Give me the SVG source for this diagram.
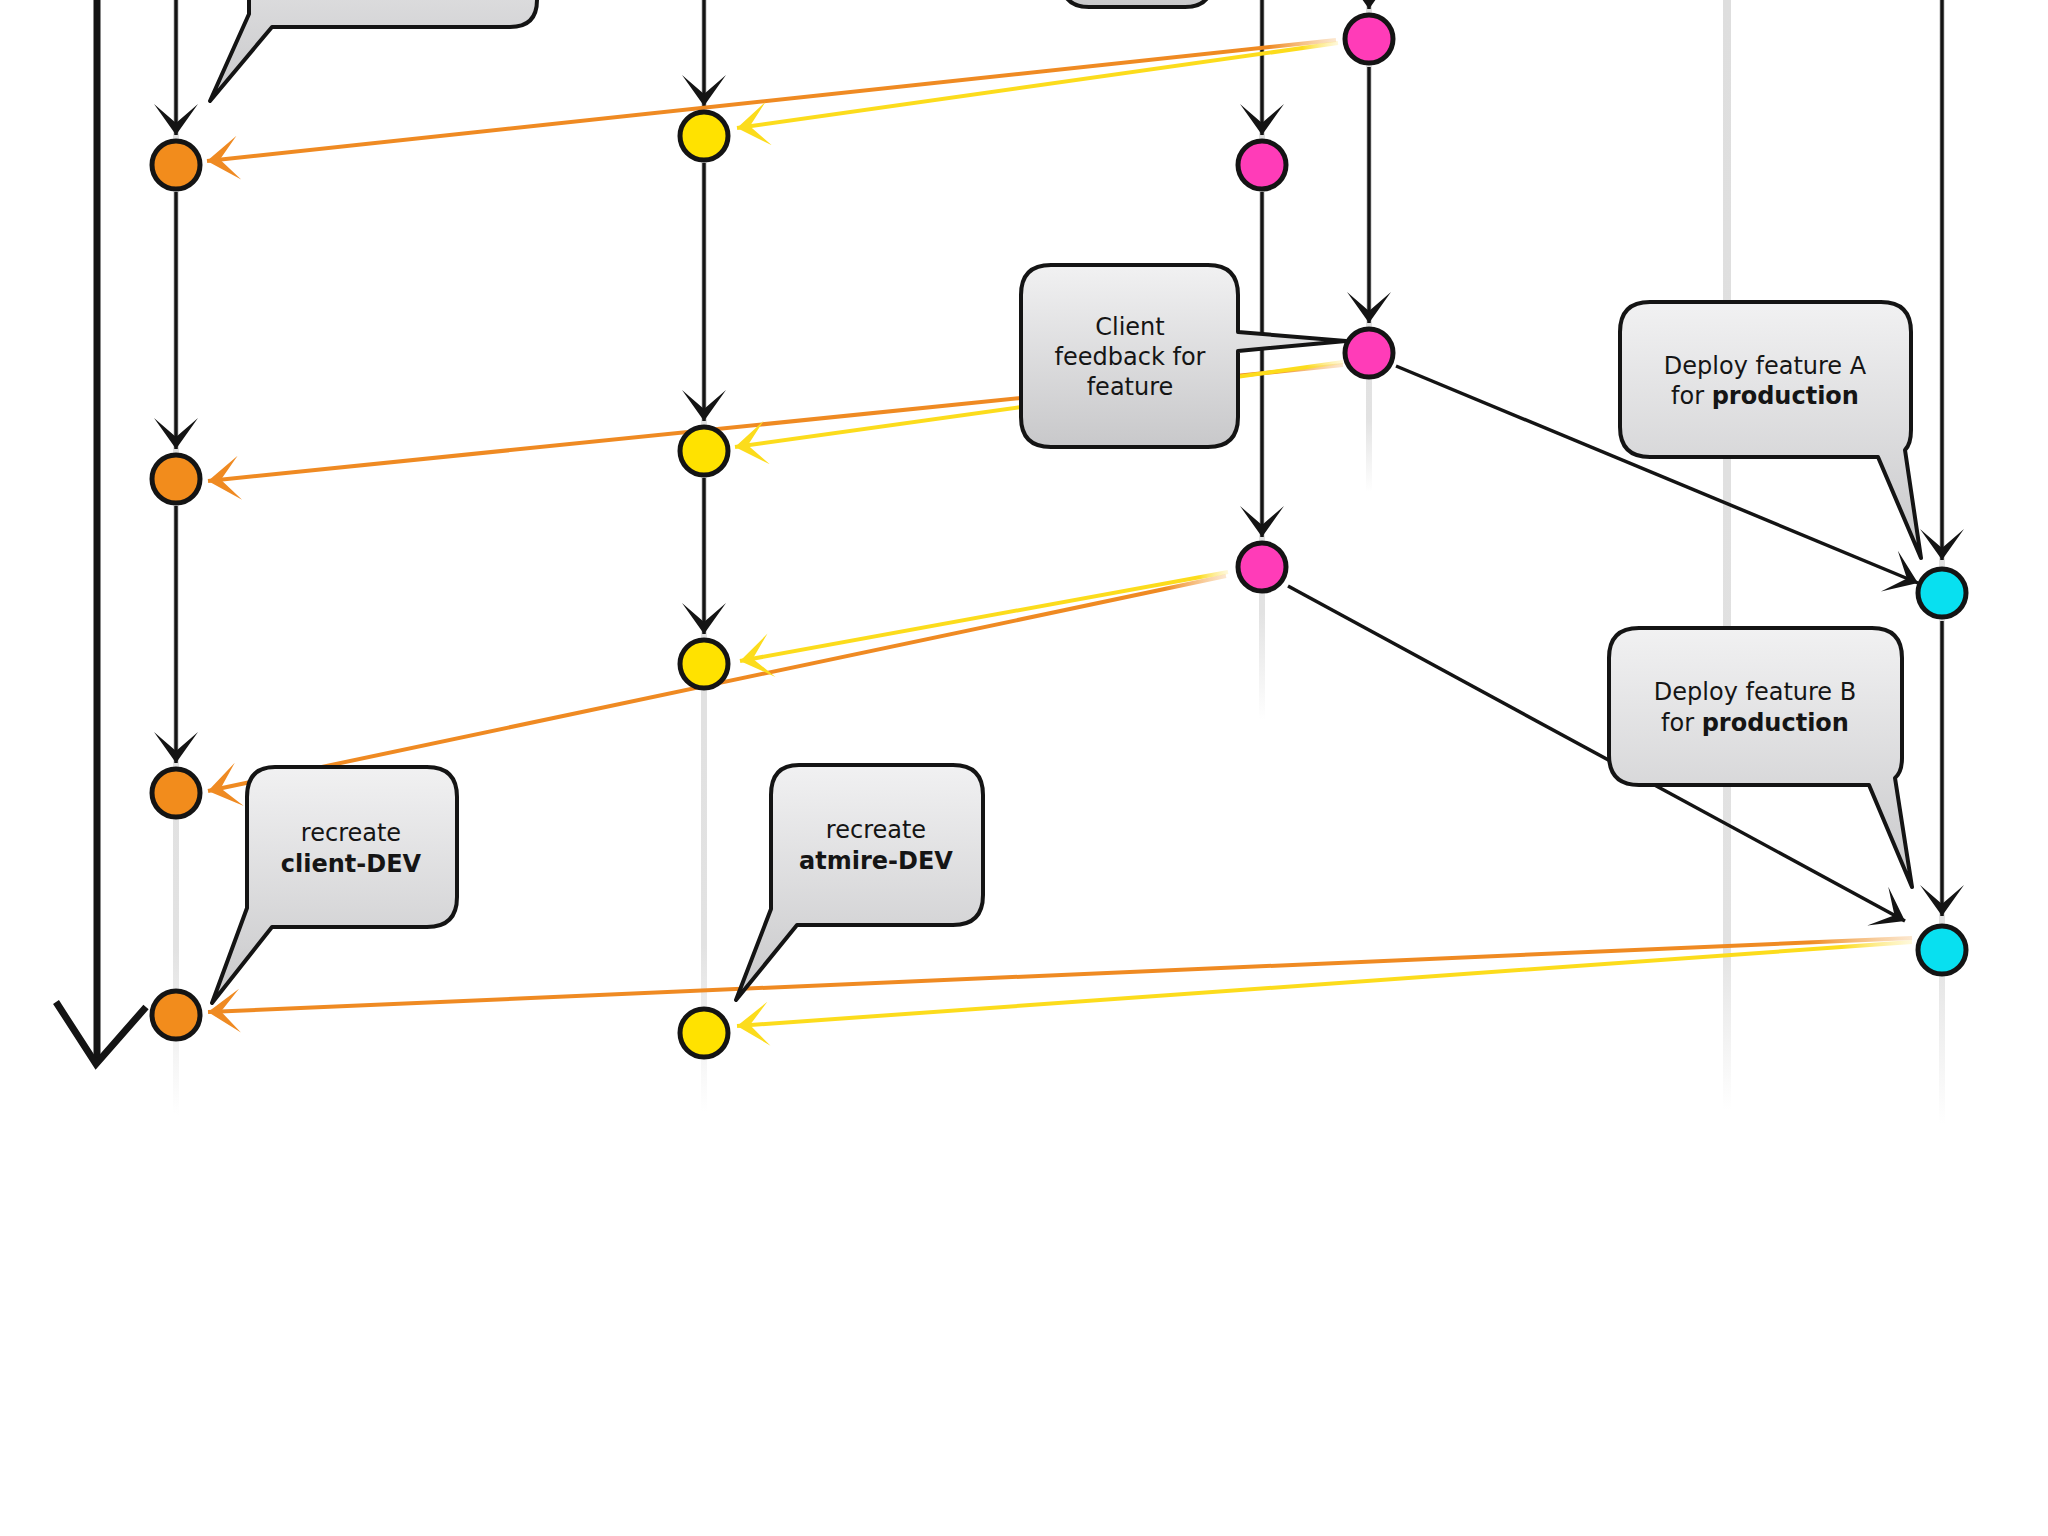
<svg xmlns="http://www.w3.org/2000/svg" width="2048" height="1536" viewBox="0 0 2048 1536">
<defs>
<style>
.lane{fill:url(#laneG)}
.blk{stroke:#141414;stroke-width:3.5;fill:none;marker-end:url(#mB)}
.org{stroke:url(#gO);stroke-width:4;fill:none;marker-end:url(#mO)}
.yel{stroke:url(#gY);stroke-width:4;fill:none;marker-end:url(#mY)}
.bub{fill:url(#bubG);stroke:#141414;stroke-width:4;stroke-linejoin:round}
.node{stroke:#141414;stroke-width:5}
.o{fill:#f28c1c}.y{fill:#ffe200}.p{fill:#ff3cb8}.c{fill:#08e0f0}
text{font-family:"DejaVu Sans","Liberation Sans",sans-serif;font-size:24px;fill:#151515;text-anchor:middle}
.b{font-weight:bold}
</style>
<linearGradient id="laneG" x1="0" y1="0" x2="0" y2="1"><stop offset="0" stop-color="#dedede"/><stop offset="0.85" stop-color="#e2e2e2"/><stop offset="1" stop-color="#e2e2e2" stop-opacity="0"/></linearGradient>
<linearGradient id="bubG" x1="0" y1="0" x2="0" y2="1"><stop offset="0" stop-color="#f1f1f2"/><stop offset="1" stop-color="#c8c8ca"/></linearGradient>
<linearGradient id="gO" x1="0" y1="0" x2="1" y2="0"><stop offset="0" stop-color="#ef8a22"/><stop offset="0.94" stop-color="#ef8a22"/><stop offset="1" stop-color="#f4b060" stop-opacity="0.3"/></linearGradient>
<linearGradient id="gY" x1="0" y1="0" x2="1" y2="0"><stop offset="0" stop-color="#fcdc1c"/><stop offset="0.94" stop-color="#fcdc1c"/><stop offset="1" stop-color="#fde98a" stop-opacity="0.3"/></linearGradient>
<marker id="mB" markerUnits="userSpaceOnUse" markerWidth="60" markerHeight="60" refX="0" refY="0" orient="auto" overflow="visible"><path d="M0,0 L-31,-22 L-12,0 L-31,22 Z" fill="#141414"/></marker>
<marker id="mO" markerUnits="userSpaceOnUse" markerWidth="60" markerHeight="60" refX="0" refY="0" orient="auto" overflow="visible"><path d="M0,0 L-32,-22 L-13,0 L-32,22 Z" fill="#ef8a22"/></marker>
<marker id="mY" markerUnits="userSpaceOnUse" markerWidth="60" markerHeight="60" refX="0" refY="0" orient="auto" overflow="visible"><path d="M0,0 L-32,-22 L-13,0 L-32,22 Z" fill="#fcdc1c"/></marker>
</defs>
<rect width="2048" height="1536" fill="#ffffff"/>

<g id="lanes">
<rect class="lane" x="173" y="0" width="6" height="1115"/>
<rect class="lane" x="701" y="0" width="6" height="1112"/>
<rect class="lane" x="1259" y="0" width="6" height="720"/>
<rect class="lane" x="1366" y="0" width="6" height="492"/>
<rect class="lane" x="1723" y="0" width="8" height="1110"/>
<rect class="lane" x="1939" y="0" width="6" height="1124"/>
</g>

<g id="connectors">
<path d="M97 -5 L97 1058" stroke="#141414" stroke-width="7" fill="none"/>
<path d="M56 1002 L96 1064 L146 1007" stroke="#141414" stroke-width="7" fill="none" stroke-linejoin="miter"/>
<path class="blk" d="M176 -5 V135"/>
<path class="blk" d="M176 192 V449"/>
<path class="blk" d="M176 506 V763"/>
<path class="blk" d="M704 -5 V106"/>
<path class="blk" d="M704 163 V421"/>
<path class="blk" d="M704 478 V634"/>
<path class="blk" d="M1262 -5 V135"/>
<path class="blk" d="M1262 192 V537"/>
<path class="blk" d="M1369 -40 V9"/>
<path class="blk" d="M1369 67 V323"/>
<path class="blk" d="M1942 -5 V560"/>
<path class="blk" d="M1942 621 V916"/>
<path class="blk" d="M1396 366 L1918 583"/>
<path class="blk" d="M1288 586 L1905 921"/>
<path class="org" d="M1336 40 L207 161"/>
<path class="yel" d="M1338 43 L737 128"/>
<path class="org" d="M1343 365 L208 481"/>
<path class="yel" d="M1343 362 L735 447"/>
<path class="org" d="M1226 576 L208 791"/>
<path class="yel" d="M1228 572 L740 661"/>
<path class="org" d="M1912 938 L208 1012"/>
<path class="yel" d="M1912 942 L737 1026"/>
</g>

<g id="callout-top-left"><path class="bub" d="M249 -120 H537 V0 Q537 27 510 27 H272 L210 101 L249 14 Z"/></g>
<g id="callout-top-center"><path class="bub" d="M1062 -120 V-20 Q1062 7 1089 7 H1185 Q1212 7 1212 -20 V-120 Z"/></g>

<g id="callout-client-feedback">
<path class="bub" d="M1051 265 H1208 Q1238 265 1238 295 V332 L1346 341 L1238 351 V417 Q1238 447 1208 447 H1051 Q1021 447 1021 417 V295 Q1021 265 1051 265 Z"/>
<text x="1130" y="335">Client</text>
<text x="1130" y="365">feedback for</text>
<text x="1130" y="395">feature</text>
</g>

<g id="callout-deploy-a">
<path class="bub" d="M1650 302 H1881 Q1911 302 1911 332 V430 Q1911 444 1905 450 L1921 558 L1878 457 H1650 Q1620 457 1620 427 V332 Q1620 302 1650 302 Z"/>
<text x="1765" y="374">Deploy feature A</text>
<text x="1765" y="404">for <tspan class="b">production</tspan></text>
</g>

<g id="callout-deploy-b">
<path class="bub" d="M1639 628 H1872 Q1902 628 1902 658 V758 Q1902 772 1895 778 L1912 887 L1869 785 H1639 Q1609 785 1609 755 V658 Q1609 628 1639 628 Z"/>
<text x="1755" y="700">Deploy feature B</text>
<text x="1755" y="731">for <tspan class="b">production</tspan></text>
</g>

<g id="callout-recreate-client">
<path class="bub" d="M275 767 H427 Q457 767 457 797 V897 Q457 927 427 927 H272 L212 1003 L247 908 V797 Q247 767 275 767 Z"/>
<text x="351" y="841">recreate</text>
<text x="351" y="872" class="b">client-DEV</text>
</g>

<g id="callout-recreate-atmire">
<path class="bub" d="M799 765 H953 Q983 765 983 795 V895 Q983 925 953 925 H797 L736 1000 L771 909 V795 Q771 765 799 765 Z"/>
<text x="876" y="838">recreate</text>
<text x="876" y="869" class="b">atmire-DEV</text>
</g>

<g id="node-o1"><circle class="node o" cx="176" cy="165" r="24"/></g>
<g id="node-o2"><circle class="node o" cx="176" cy="479" r="24"/></g>
<g id="node-o3"><circle class="node o" cx="176" cy="793" r="24"/></g>
<g id="node-o4"><circle class="node o" cx="176" cy="1015" r="24"/></g>
<g id="node-y1"><circle class="node y" cx="704" cy="136" r="24"/></g>
<g id="node-y2"><circle class="node y" cx="704" cy="451" r="24"/></g>
<g id="node-y3"><circle class="node y" cx="704" cy="664" r="24"/></g>
<g id="node-y4"><circle class="node y" cx="704" cy="1033" r="24"/></g>
<g id="node-p1"><circle class="node p" cx="1262" cy="165" r="24"/></g>
<g id="node-p2"><circle class="node p" cx="1262" cy="567" r="24"/></g>
<g id="node-p3"><circle class="node p" cx="1369" cy="39" r="24"/></g>
<g id="node-p4"><circle class="node p" cx="1369" cy="353" r="24"/></g>
<g id="node-c1"><circle class="node c" cx="1942" cy="593" r="24"/></g>
<g id="node-c2"><circle class="node c" cx="1942" cy="950" r="24"/></g>
</svg>
